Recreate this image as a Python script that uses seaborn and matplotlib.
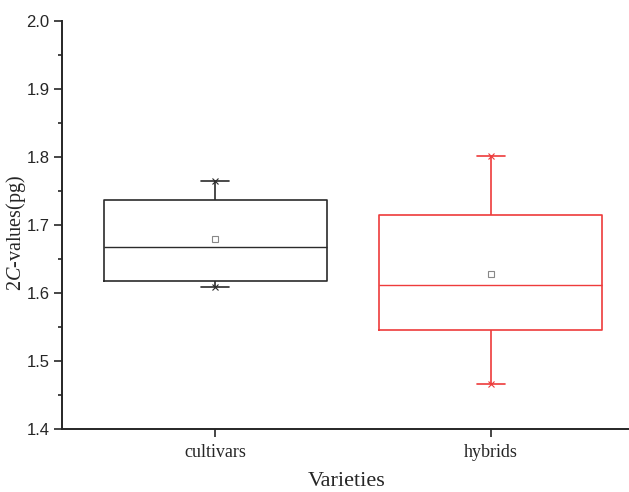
import pandas as pd
import seaborn as sns
import matplotlib.pyplot as plt

# values (5 points per group: min, q1, median, q3, max)
cultivars = [1.609, 1.618, 1.668, 1.737, 1.765]
hybrids = [1.466, 1.546, 1.612, 1.715, 1.801]
groups = ["cultivars", "hybrids"]
colors = {"cultivars": "#2b2b2b", "hybrids": "#ee3b3b"}

df = pd.DataFrame({
    "variety": ["cultivars"] * len(cultivars) + ["hybrids"] * len(hybrids),
    "value": cultivars + hybrids,
})

sns.set_style("ticks")
plt.rcParams["font.family"] = ["Liberation Sans", "DejaVu Sans"]
plt.rcParams["mathtext.fontset"] = "custom"
plt.rcParams["mathtext.rm"] = "Liberation Serif"
plt.rcParams["mathtext.it"] = "Liberation Serif:italic"

fig = plt.figure(figsize=(6.29, 4.92), dpi=100)
ax = fig.add_axes([0.0986, 0.128, 0.905, 0.829])

sns.boxplot(data=df, x="variety", y="value", hue="variety", order=groups,
            palette=colors, fill=False, width=0.81, whis=(0, 100),
            linewidth=1.2, showmeans=True, legend=False, ax=ax,
            capwidths=0.1,
            meanprops=dict(marker="s", markersize=4, markerfacecolor="white",
                           markeredgecolor="#888888", markeredgewidth=0.8),
            medianprops=dict(linewidth=1.0))

# min / max markers at whisker ends
for est in ["max", "min"]:
    sns.pointplot(data=df, x="variety", y="value", hue="variety", order=groups,
                  palette=colors, estimator=est, errorbar=None, markers="x",
                  linestyles="none", markersize=4, markeredgewidth=0.8,
                  legend=False, ax=ax)

ax.set_ylim(1.4, 2.0)
ax.set_xlim(-0.556, 1.51)
ax.set_yticks([1.4, 1.5, 1.6, 1.7, 1.8, 1.9, 2.0])
ax.set_yticks([1.45, 1.55, 1.65, 1.75, 1.85, 1.95], minor=True)
ax.tick_params(axis="y", which="major", length=6, width=1.2, labelsize=12, pad=3)
ax.tick_params(axis="y", which="minor", length=3, width=1.2)
ax.tick_params(axis="x", which="major", length=6, width=1.2, labelsize=13, pad=5)
for lab in ax.get_xticklabels():
    lab.set_fontfamily("Liberation Serif")

sns.despine(ax=ax)
for s in ["left", "bottom"]:
    ax.spines[s].set_linewidth(1.4)

ax.set_xlabel("Varieties", fontsize=16, family="Liberation Serif", labelpad=8)
ax.set_ylabel(r"2$\mathit{C}$-values(pg)", fontsize=14.5,
              family="Liberation Serif")
ax.yaxis.set_label_coords(-0.06, 0.48)

fig.savefig("out.png", dpi=100)
